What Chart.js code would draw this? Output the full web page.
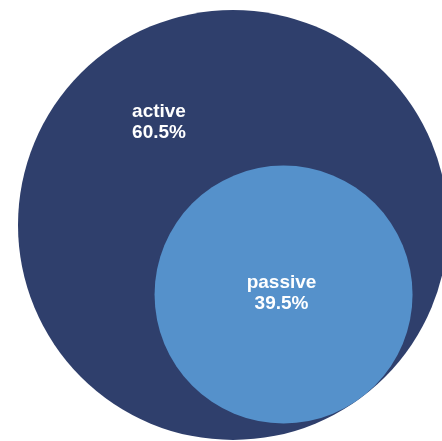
<!DOCTYPE html>
<html>
<head>
<meta charset="utf-8">
<script src="https://cdn.jsdelivr.net/npm/chart.js@4.4.1/dist/chart.umd.min.js"></script>
<style>
  html, body { margin: 0; padding: 0; background: #fff; }
  #wrap { width: 442px; height: 441px; }
</style>
</head>
<body>
<div id="wrap"><canvas id="circleChart" width="442" height="441"></canvas></div>
<script>
// data
const labels = ['active', 'passive'];
const shares = [60.5, 39.5];
const colors = ['#2f3f6c', '#5591cb'];

// layout (pixels, scales run 0..442 / 0..441 so data units = pixels)
const outerR = 215;
const innerR = 129;
const outerC = { x: 233, y: 225 };
const tangentAngle = 54 * Math.PI / 180;
const innerC = {
    x: outerC.x + (outerR - innerR) * Math.cos(tangentAngle),
    y: outerC.y + (outerR - innerR) * Math.sin(tangentAngle)
};
const labelOffsets = [{ dx: -74, dy: -108 }, { dx: -2, dy: -7 }];

const points = [
    { x: outerC.x, y: outerC.y, r: outerR },
    { x: innerC.x, y: innerC.y, r: innerR }
];

const labelPlugin = {
    id: 'circleLabels',
    afterDatasetsDraw(chart) {
        const ctx = chart.ctx;
        ctx.save();
        ctx.fillStyle = '#ffffff';
        ctx.font = 'bold 19px "Liberation Sans", Arial, sans-serif';
        ctx.textAlign = 'center';
        ctx.textBaseline = 'alphabetic';
        chart.data.datasets.forEach((ds, i) => {
            const el = chart.getDatasetMeta(i).data[0];
            const off = labelOffsets[i];
            ctx.fillText(labels[i], el.x + off.dx, el.y + off.dy);
            ctx.fillText(shares[i].toFixed(1) + '%', el.x + off.dx, el.y + off.dy + 21);
        });
        ctx.restore();
    }
};

const circleChart = new Chart(
    document.getElementById('circleChart').getContext('2d'), {
    type: 'bubble',
    data: {
        datasets: labels.map((l, i) => ({
            label: l,
            data: [points[i]],
            backgroundColor: colors[i],
            hoverBackgroundColor: colors[i],
            borderWidth: 0,
            hoverBorderWidth: 0,
            hoverRadius: 0,
            order: labels.length - i,   // outer circle drawn first
            clip: false
        }))
    },
    options: {
        responsive: false,
        animation: false,
        events: [],
        layout: { padding: 0, autoPadding: false },
        scales: {
            x: { type: 'linear', min: 0, max: 442, display: false },
            y: { type: 'linear', min: 0, max: 441, reverse: true, display: false }
        },
        plugins: {
            legend: { display: false },
            tooltip: { enabled: false }
        }
    },
    plugins: [labelPlugin]
});
</script>
</body>
</html>
